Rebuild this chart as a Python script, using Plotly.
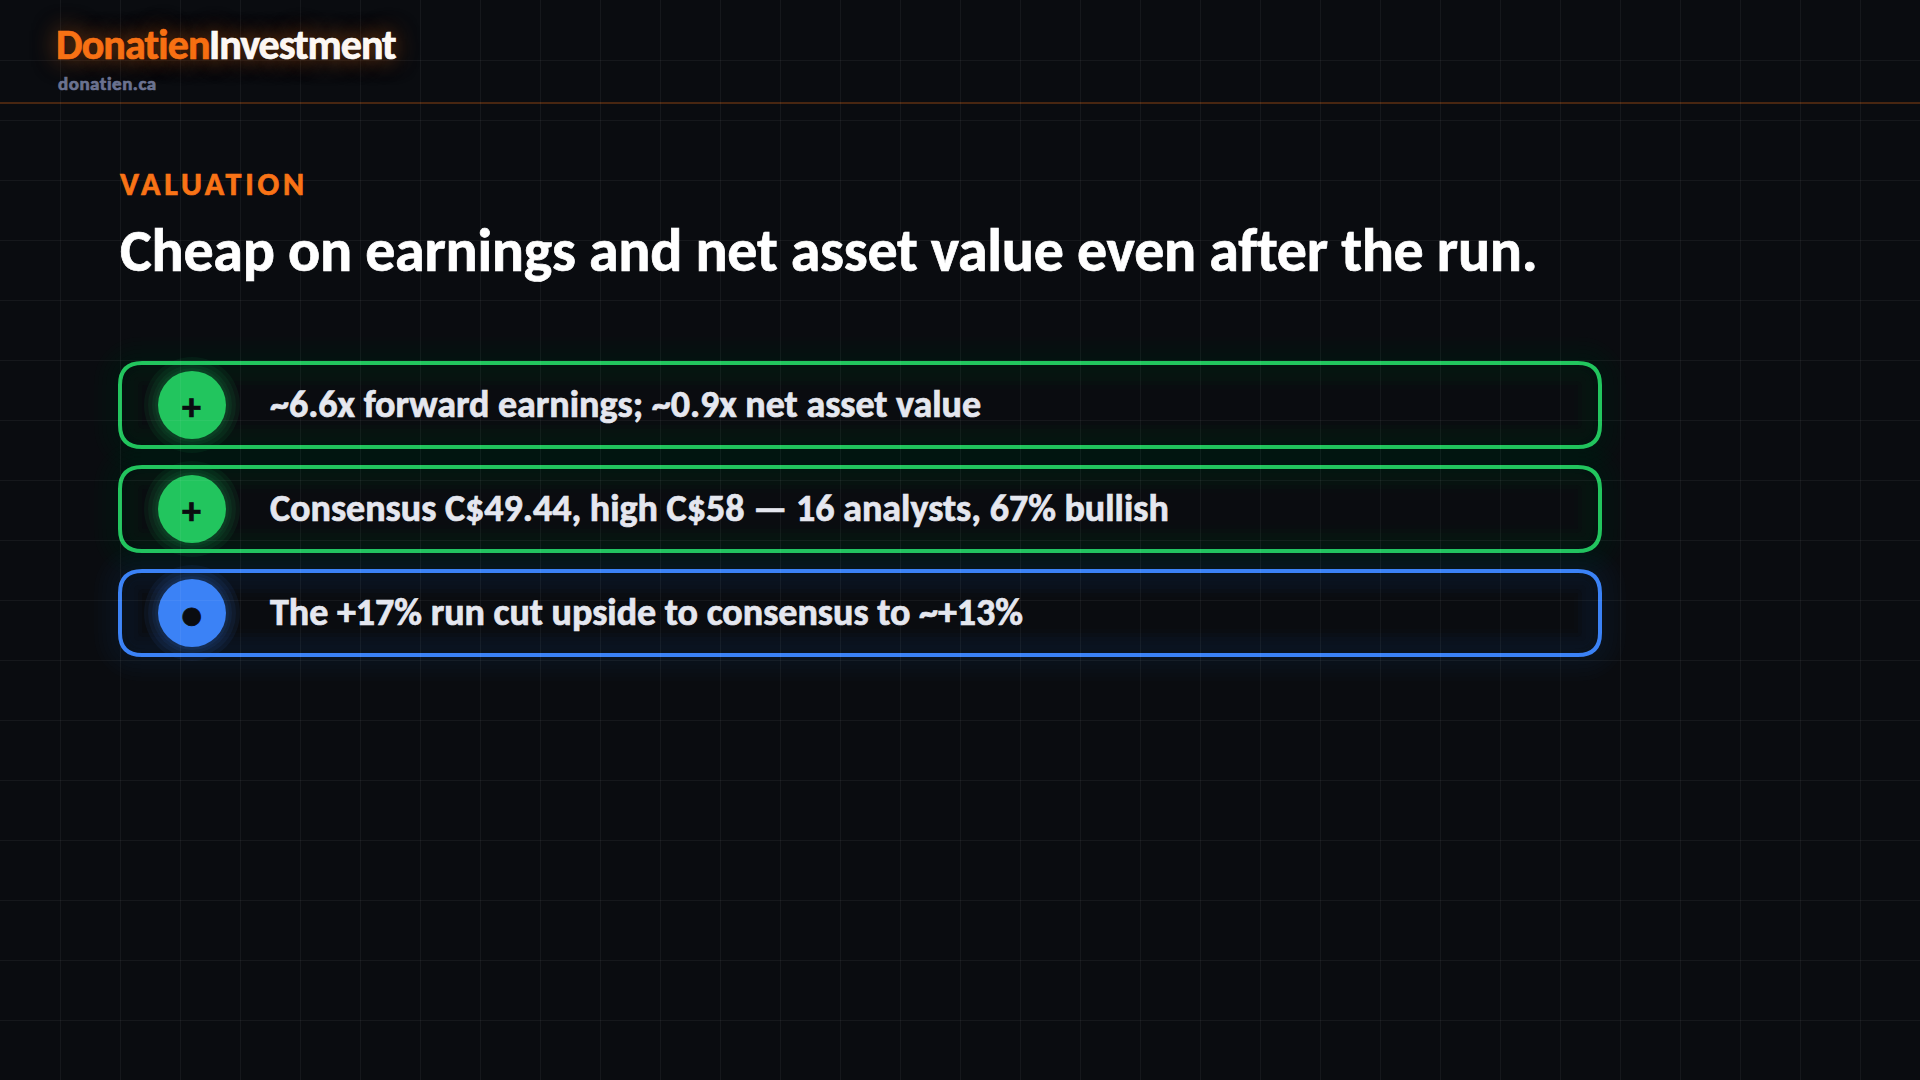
import plotly.graph_objects as go

BG = '#0a0c10'
ORANGE = '#f97316'
GREEN = '#22c55e'
BLUE = '#3b82f6'
FONT = 'Carlito, Lato, sans-serif'

brand_parts = ['Donatien', 'Investment']
site = 'donatien.ca'
kicker = 'VALUATION'
headline = 'Cheap on earnings and net asset value even after the run.'
point_texts = [
    '~6.6x forward earnings; ~0.9x net asset value',
    'Consensus C$49.44, high C$58 — 16 analysts, 67% bullish',
    'The +17% run cut upside to consensus to ~+13%',
]
point_icons = ['+', '+', '●']
point_colors = [GREEN, GREEN, BLUE]


def rgba(color, alpha):
    r, g, b = (int(color[i:i + 2], 16) for i in (1, 3, 5))
    return f'rgba({r},{g},{b},{alpha})'


def round_rect(x0, y0, x1, y1, r):
    return (
        f'M{x0 + r},{y0} L{x1 - r},{y0} Q{x1},{y0} {x1},{y0 + r} '
        f'L{x1},{y1 - r} Q{x1},{y1} {x1 - r},{y1} L{x0 + r},{y1} '
        f'Q{x0},{y1} {x0},{y1 - r} L{x0},{y0 + r} Q{x0},{y0} {x0 + r},{y0} Z'
    )


def label(text, x, y, size, color, weight=700, shadow=None):
    font = {'family': FONT, 'size': size, 'color': color, 'weight': weight}
    if shadow:
        font['shadow'] = shadow
    fig.add_annotation(
        x=x, y=y, text=text, showarrow=False, xanchor='left', yanchor='middle',
        align='left', borderpad=0, font=font
    )


fig = go.Figure()
fig.update_layout(
    width=1920, height=1080, margin={'t': 0, 'r': 0, 'b': 0, 'l': 0},
    paper_bgcolor=BG, plot_bgcolor=BG, showlegend=False
)
grid = {
    'showgrid': True, 'gridcolor': 'rgba(255,255,255,0.05)', 'gridwidth': 1, 'dtick': 60,
    'tick0': 0, 'zeroline': False, 'showticklabels': False, 'showline': False, 'ticks': ''
}
fig.update_xaxes(range=[0, 1920], **grid)
fig.update_yaxes(range=[1080, 0], **grid)

fig.add_shape(type='line', x0=0, x1=1920, y0=103, y1=103,
              line={'color': rgba(ORANGE, 0.35), 'width': 1.5}, layer='below')

top = 363
for i, color in enumerate(point_colors):
    y0 = top + i * 104
    y1 = y0 + 84
    cy = (y0 + y1) / 2
    path = round_rect(120, y0, 1600, y1, 22)
    # glow is a stack of wide faint strokes, the inset one only shows inside the card
    for w in (52, 44, 36, 28, 20, 12):
        fig.add_shape(type='path', path=path, line={'color': rgba(color, 0.012), 'width': w}, layer='below')
    inner = round_rect(132, y0 + 12, 1588, y1 - 12, 14)
    for w in (20, 12):
        fig.add_shape(type='path', path=inner, line={'color': rgba(color, 0.014), 'width': w}, layer='below')
    fig.add_shape(type='path', path=path, line={'color': color, 'width': 4}, layer='below')
    for r in (48, 44, 40, 37):
        fig.add_shape(type='circle', x0=192 - r, x1=192 + r, y0=cy - r, y1=cy + r,
                      fillcolor=rgba(color, 0.07), line={'width': 0}, layer='below')
    fig.add_shape(type='circle', x0=158, x1=226, y0=cy - 34, y1=cy + 34,
                  fillcolor=color, line={'width': 0}, layer='below')
    fig.add_annotation(x=191.5, y=cy + 2, text=point_icons[i], showarrow=False,
                       font={'family': FONT, 'size': 38, 'color': BG, 'weight': 700})
    label(point_texts[i], 269, cy - 1, 38, '#e5e7ef')

glow = f'0 0 24px {rgba(ORANGE, 0.5)}'
label(brand_parts[0], 55, 44.5, 42, ORANGE, shadow=glow)
label(brand_parts[1], 207.5, 44.5, 42, '#ffffff', shadow=glow)
label(site, 57, 83, 19, '#6b7290')
label(kicker, 118.5, 184, 32, ORANGE)
label(headline, 119, 250.5, 60, '#ffffff')

post = """
document.body.style.margin = '0';
document.body.style.background = '#0a0c10';
var spacing = {'VALUATION': '3.84px', 'donatien.ca': '0.5px', 'Donatien': '-0.84px', 'Investment': '-1px'};
spacing['Cheap on earnings and net asset value even after the run.'] = '-0.27px';
document.querySelectorAll('g.annotation text').forEach(function (t) {
    if (spacing[t.textContent]) { t.style.letterSpacing = spacing[t.textContent]; }
    t.style.stroke = t.style.fill;
    t.style.strokeWidth = '0.7px';
});
"""
fig.write_html('out.html', config={'displayModeBar': False}, post_script=post)
